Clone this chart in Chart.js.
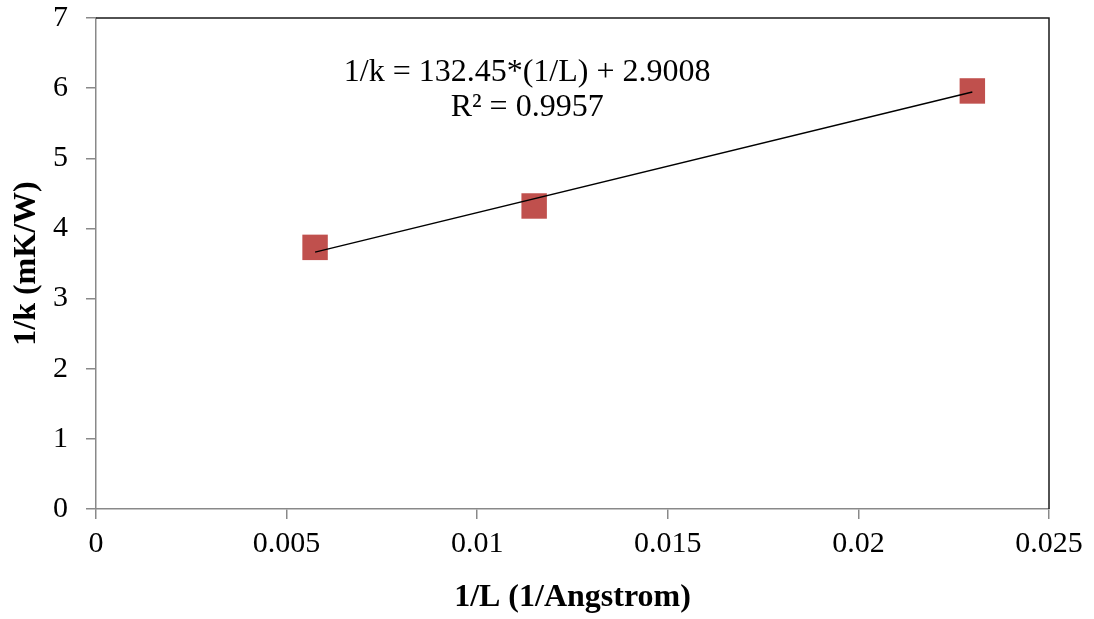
<!DOCTYPE html>
<html>
<head>
<meta charset="utf-8">
<title>1/k vs 1/L</title>
<script src="https://cdn.jsdelivr.net/npm/chart.js@4.4.1/dist/chart.umd.min.js"></script>
<style>
  html, body { margin: 0; padding: 0; background: #fff; }
  #wrap { width: 1094px; height: 619px; }
</style>
</head>
<body>
<div id="wrap"><canvas id="fitChart" width="1094" height="619"></canvas></div>
<script>
// data
const invL = [0.005747, 0.011494, 0.022989];
const invK = [3.73, 4.32, 5.96];
const xTickLabels = ['0', '0.005', '0.01', '0.015', '0.02', '0.025'];
const yTickLabels = ['0', '1', '2', '3', '4', '5', '6', '7'];
// trendline shown on the chart: 1/k = 132.45*(1/L) + 2.9008
const slope = 132.45;
const intercept = 2.9008;
const rSquared = '0.9957';

const AXIS_GREY = '#898989';
const SERIF = '"Liberation Serif", "Times New Roman", serif';

const trendX = [invL[0], invL[invL.length - 1]];
const trendPoints = trendX.map(x => ({ x: x, y: slope * x + intercept }));

// black frame on top and right side of the plot area
const frame = {
  id: 'frame',
  beforeDatasetsDraw(chart) {
    const { ctx, chartArea: a } = chart;
    ctx.save();
    ctx.strokeStyle = '#1a1a1a';
    ctx.lineWidth = 1.5;
    ctx.beginPath();
    ctx.moveTo(a.left, a.top);
    ctx.lineTo(a.right, a.top);
    ctx.lineTo(a.right, a.bottom);
    ctx.stroke();
    ctx.restore();
  }
};

// regression equation label
const equation = {
  id: 'equation',
  afterDatasetsDraw(chart) {
    const { ctx, scales } = chart;
    const cx = scales.x.getPixelForValue(0.01131);
    ctx.save();
    ctx.fillStyle = '#000';
    ctx.font = '32px ' + SERIF;
    ctx.textAlign = 'center';
    ctx.textBaseline = 'middle';
    ctx.fillText('1/k = ' + slope + '*(1/L) + ' + intercept, cx, scales.y.getPixelForValue(6.22));
    ctx.fillText('R\u00b2 = ' + rSquared, cx, scales.y.getPixelForValue(5.72));
    ctx.restore();
  }
};

window.addEventListener('DOMContentLoaded', () => {
  const ctx = document.getElementById('fitChart');
  new Chart(ctx, {
    type: 'scatter',
    data: {
      datasets: [
        {
          label: 'Linear fit',
          data: trendPoints,
          showLine: true,
          borderColor: '#000',
          borderWidth: 1.5,
          pointRadius: 0,
          fill: false
        },
        {
          label: '1/k',
          data: invL.map((x, i) => ({ x: x, y: invK[i] })),
          pointStyle: 'rect',
          pointRadius: 18,
          pointHoverRadius: 18,
          backgroundColor: '#C0504D',
          borderColor: '#C0504D',
          borderWidth: 0
        }
      ]
    },
    options: {
      responsive: false,
      animation: false,
      devicePixelRatio: 1,
      layout: { padding: { left: 0, right: 45, top: 0, bottom: 0 } },
      plugins: {
        legend: { display: false },
        tooltip: { enabled: false }
      },
      scales: {
        x: {
          type: 'linear',
          min: 0,
          max: 0.025,
          afterFit(scale) { scale.height = 110; },
          grid: { display: true, drawOnChartArea: false, drawTicks: true, tickLength: 10, color: AXIS_GREY, lineWidth: 1.5 },
          border: { display: true, color: AXIS_GREY, width: 1.5 },
          ticks: {
            stepSize: 0.005,
            padding: 7,
            color: '#000',
            font: { family: SERIF, size: 30 },
            maxRotation: 0,
            callback: (v, i) => xTickLabels[i]
          },
          title: {
            display: true,
            text: '1/L (1/Angstrom)',
            color: '#000',
            font: { family: SERIF, size: 32, weight: 'bold' },
            padding: { top: 0, bottom: 2 }
          }
        },
        y: {
          type: 'linear',
          min: 0,
          max: 7,
          afterFit(scale) {
            scale.width = 96;
            scale.paddingTop = 18;
            scale.paddingBottom = 0;
          },
          grid: { display: true, drawOnChartArea: false, drawTicks: true, tickLength: 10, color: AXIS_GREY, lineWidth: 1.5 },
          border: { display: true, color: AXIS_GREY, width: 1.5 },
          ticks: {
            stepSize: 1,
            padding: 18,
            color: '#000',
            font: { family: SERIF, size: 30 },
            callback: (v, i) => yTickLabels[i]
          },
          title: {
            display: true,
            text: '1/k (mK/W)',
            color: '#000',
            font: { family: SERIF, size: 32, weight: 'bold' },
            padding: { top: 8, bottom: 0 }
          }
        }
      }
    },
    plugins: [frame, equation]
  });
});
</script>
</body>
</html>
